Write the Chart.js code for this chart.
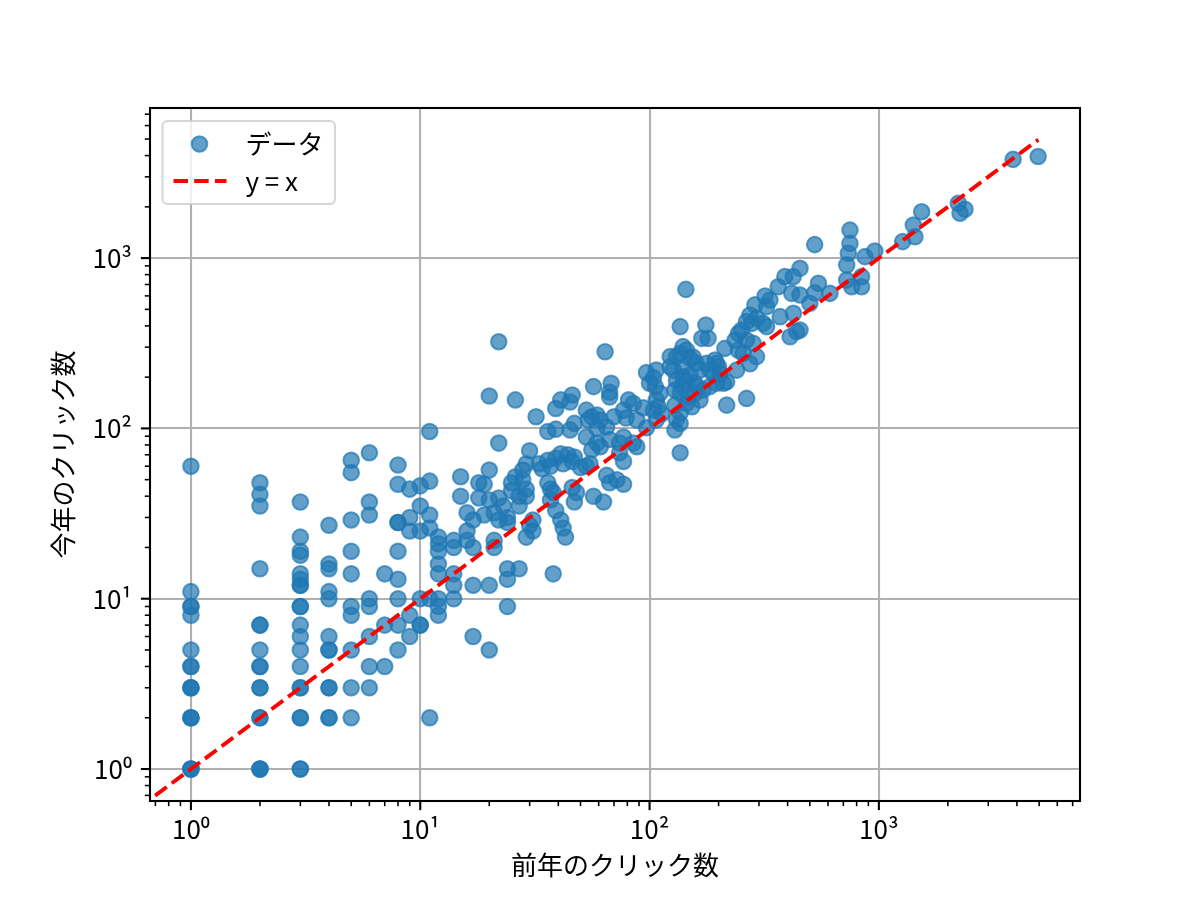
<!DOCTYPE html>
<html>
<head>
<meta charset="utf-8">
<script src="https://cdn.jsdelivr.net/npm/chart.js@4.4.1/dist/chart.umd.min.js"></script>
<style>
  html, body { margin: 0; padding: 0; background: #ffffff; }
  #c { display: block; width: 1200px; height: 900px; }
</style>
</head>
<body>
<canvas id="c" width="1200" height="900"></canvas>
<script>
// ---- data: previous-year clicks (x) vs this-year clicks (y) ----
const lowPrev = [
  1,1,1,1,1,1,1,1,1,1,1,1,1,1,1,1,1,
  2,2,2,2,2,2,2,2,2,2,2,2,2,2,2,2,
  3,3,3,3,3,3,3,3,3,3,3,3,3,3,3,3,3,3,3,3,
  4,4,4,4,4,4,4,4,4,4,4,4,
  5,5,5,5,5,5,5,5,5,5,
  6,6,6,6,6,6,6,6,
  7,7,7,
  8,8,8,8,8,8,8,8,8,
  9,9,9,9,9,
  10,10,10,10,10,10,
  11,11,11,11,11,11,
  12,12,12,12,12,12,12,12
];
const lowCurr = [
  60,11,9,9,8,5,4,4,3,3,3,2,2,2,1,1,1,
  48,41,35,15,7,7,5,4,4,3,3,2,2,1,1,1,
  37,23,19,18,14,13,12,12,9,9,7,6,5,4,3,3,2,2,1,1,
  27,16,15,11,10,6,5,5,3,3,2,2,
  65,55,29,19,14,9,8,5,3,2,
  72,37,31,10,9,6,4,3,
  14,7,4,
  61,47,28,28,19,13,10,7,5,
  44,30,25,8,6,
  46,35,25,10,7,7,
  96,49,31,26,10,2,
  23,21,19,16,14,10,9,8
];
const midPrev = [
  14,14,14,14,15,15,16,16,17,17,
  17,17,18,18,19,20,20,20,20,20,
  21,21,21,22,22,22,22,23,24,24,
  24,24,24,25,26,26,27,27,27,28,
  29,29,30,30,31,31,32,33,34,36,
  36,37,37,38,39,39,39,39,41,41,
  42,43,44,45,46,46,47,47,47,48,
  53,56,56,57,57,61,61,63,64,65,
  65,67,67,67,68,70,74,77,77,79,
  81,85,88,88,94,97
];
const midCurr = [
  20,14,12,10,52,40,22,32,20,12,
  6,29,48,39,47,155,57,38,12,5,
  32,22,20,323,82,39,29,35,9,15,
  13,30,28,48,147,52,15,40,35,57,
  44,23,74,27,29,25,117,62,58,65,
  48,44,38,14,131,99,67,33,147,29,
  26,23,70,143,157,45,107,68,37,42,
  60,117,75,176,40,112,78,37,282,102,
  53,163,86,48,184,117,82,64,47,115,
  147,140,112,78,132,101
];
const densePrev = [
  28,25,29,41,37,42,46,38,19,16,
  14,55,50,72,74,36,45,53,59,29,
  67,77,59,54,100,113,107,145,136,155,
  123,140,131,145,158,177,190,210,196,136,
  145,171,131,293,53,59,77,85
];
const denseCurr = [
  50,43,40,71,60,62,64,42,31,25,
  22,62,59,50,72,96,98,89,82,62,
  153,128,120,112,184,122,112,288,276,262,
  230,230,192,192,184,241,210,184,184,161,
  140,168,113,264,128,100,89,82
];
const highPrev = [
  97,104,107,104,106,107,109,111,123,127,
  129,129,129,131,136,136,136,136,138,140,
  140,144,148,150,150,153,158,160,160,166,
  166,169,176,180,183,183,193,196,200,203,
  213,217,217,236,240,244,244,252,256,265,
  265,265,274,274,279,283,288,293,313,319,
  324,324,335,364,371,389,410,417,423,424,
  438,453,453,453,500,525,525,545,612,724,
  724,736,748,748,761,841,841,870,960,1270,
  1413,1437,1537,2220,2260,2375,3850,4950
];
const highCurr = [
  213,198,220,128,176,147,134,161,264,220,
  168,137,98,264,396,123,107,72,176,302,
  201,655,153,258,206,134,161,241,176,220,
  147,338,405,338,220,176,252,241,230,210,
  295,188,137,330,220,361,288,378,275,424,
  330,150,463,240,414,316,531,443,414,599,
  519,396,567,679,453,778,345,621,778,474,
  370,871,607,378,543,625,1200,711,621,912,
  743,1067,1460,1220,679,778,679,1020,1100,1250,
  1565,1335,1870,2100,1835,1935,3800,3950
];
// reference line y = x
const refLineX = [0.5, 4960];
const refLineY = [0.5, 4960];
// axis ranges and decade tick labels
const xRange = [0.663, 7536];
const yRange = [0.649, 7610];
const majorTickValues = [1, 10, 100, 1000];
const majorTickLabels = ['10⁰', '10¹', '10²', '10³'];
const seriesLabels = ['データ', 'y = x'];
const axisTitles = ['前年のクリック数', '今年のクリック数'];

// ---- build ----
const prevClicks = lowPrev.concat(midPrev, densePrev, highPrev);
const currClicks = lowCurr.concat(midCurr, denseCurr, highCurr);

const FONT = "'Noto Sans CJK JP', 'Noto Sans', 'DejaVu Sans', sans-serif";
const DPI = 187.5 / 72;           // points -> pixels
const BLUE = 'rgba(31,119,180,0.7)';

function decadeInfo(v) {
  if (!(v > 0)) return null;
  const e = Math.floor(Math.log10(v) + 1e-9);
  const m = v / Math.pow(10, e);
  const r = Math.round(m);
  if (Math.abs(m - r) > 1e-6 || r < 1 || r > 9) return null;
  return { major: r === 1 };
}
function labelFor(v) {
  for (let i = 0; i < majorTickValues.length; i++) {
    if (Math.abs(Math.log10(v) - Math.log10(majorTickValues[i])) < 1e-6) return majorTickLabels[i];
  }
  return '';
}
function gridColor(ctx) {
  const v = ctx.tick ? ctx.tick.value : null;
  const d = decadeInfo(v);
  return d && d.major ? '#b0b0b0' : 'rgba(0,0,0,0)';
}

const axesDecor = {
  id: 'axesDecor',
  afterDraw(chart) {
    const ctx = chart.ctx;
    const a = chart.chartArea;
    ctx.save();
    // tick marks (outward)
    ctx.strokeStyle = '#000';
    const xs = chart.scales.x, ys = chart.scales.y;
    xs.ticks.forEach(t => {
      const d = decadeInfo(t.value); if (!d) return;
      const px = xs.getPixelForValue(t.value);
      if (px < a.left - 0.5 || px > a.right + 0.5) return;
      ctx.lineWidth = d.major ? 0.8 * DPI : 0.6 * DPI;
      const len = d.major ? 3.5 * DPI : 2 * DPI;
      ctx.beginPath(); ctx.moveTo(px, a.bottom); ctx.lineTo(px, a.bottom + len); ctx.stroke();
    });
    ys.ticks.forEach(t => {
      const d = decadeInfo(t.value); if (!d) return;
      const py = ys.getPixelForValue(t.value);
      if (py < a.top - 0.5 || py > a.bottom + 0.5) return;
      ctx.lineWidth = d.major ? 0.8 * DPI : 0.6 * DPI;
      const len = d.major ? 3.5 * DPI : 2 * DPI;
      ctx.beginPath(); ctx.moveTo(a.left, py); ctx.lineTo(a.left - len, py); ctx.stroke();
    });
    // spines
    ctx.lineWidth = 0.8 * DPI;
    ctx.strokeRect(a.left, a.top, a.right - a.left, a.bottom - a.top);

    // legend (upper left)
    const ds = chart.data.datasets;
    const bx = a.left + 12.5, by = a.top + 13, bw = 172.5, bh = 83;
    ctx.beginPath();
    if (ctx.roundRect) ctx.roundRect(bx, by, bw, bh, 5); else ctx.rect(bx, by, bw, bh);
    ctx.fillStyle = 'rgba(255,255,255,0.8)';
    ctx.fill();
    ctx.lineWidth = 1 * DPI * 0.8;
    ctx.strokeStyle = 'rgba(204,204,204,0.8)';
    ctx.stroke();

    // entry 1: marker
    const my = by + 23;
    ctx.beginPath();
    ctx.arc(bx + 37, my, ds[0].pointRadius, 0, Math.PI * 2);
    ctx.fillStyle = ds[0].backgroundColor; ctx.fill();
    ctx.lineWidth = ds[0].borderWidth; ctx.strokeStyle = ds[0].borderColor; ctx.stroke();
    // entry 2: dashed line
    const ly = by + 60;
    ctx.beginPath();
    ctx.setLineDash(ds[1].borderDash);
    ctx.lineWidth = ds[1].borderWidth; ctx.strokeStyle = ds[1].borderColor;
    ctx.moveTo(bx + 11, ly); ctx.lineTo(bx + 64, ly); ctx.stroke();
    ctx.setLineDash([]);
    // texts
    ctx.fillStyle = '#000';
    ctx.font = '26px ' + FONT;
    ctx.textBaseline = 'middle';
    ctx.textAlign = 'left';
    ctx.fillText(ds[0].label, bx + 83, my);
    ctx.fillText(ds[1].label, bx + 83, ly);
    ctx.restore();
  }
};

const scatterPoints = prevClicks.map((x, i) => ({ x: x, y: currClicks[i] }));
const linePoints = refLineX.map((x, i) => ({ x: x, y: refLineY[i] }));

new Chart(document.getElementById('c'), {
  type: 'scatter',
  data: {
    datasets: [
      {
        label: seriesLabels[0],
        data: scatterPoints,
        backgroundColor: BLUE,
        borderColor: BLUE,
        borderWidth: 2,
        pointRadius: 7.8,
        pointHoverRadius: 7.8,
        order: 2
      },
      {
        label: seriesLabels[1],
        data: linePoints,
        showLine: true,
        borderColor: '#ff0000',
        backgroundColor: '#ff0000',
        borderWidth: 1.5 * DPI,
        borderDash: [3.7 * 1.5 * DPI, 1.6 * 1.5 * DPI],
        pointRadius: 0,
        pointHoverRadius: 0,
        fill: false,
        clip: 0,
        order: 1
      }
    ]
  },
  options: {
    responsive: false,
    animation: false,
    devicePixelRatio: 1,
    events: [],
    layout: { padding: { top: 108, right: 120, left: 0, bottom: 0 } },
    plugins: { legend: { display: false }, tooltip: { enabled: false } },
    scales: {
      x: {
        type: 'logarithmic',
        position: 'bottom',
        bounds: 'data',
        min: xRange[0],
        max: xRange[1],
        afterFit: s => { s.height = 99; },
        border: { display: false },
        grid: { color: gridColor, lineWidth: 0.8 * DPI, drawTicks: false },
        ticks: {
          autoSkip: false, maxRotation: 0, minRotation: 0,
          padding: 13, color: '#000',
          font: { family: FONT, size: 26 },
          callback: v => labelFor(v)
        },
        title: {
          display: true, text: axisTitles[0], color: '#000',
          font: { family: FONT, size: 26 },
          padding: { top: 0, bottom: 19 }
        }
      },
      y: {
        type: 'logarithmic',
        position: 'left',
        bounds: 'data',
        min: yRange[0],
        max: yRange[1],
        afterFit: s => { s.width = 150; },
        border: { display: false },
        grid: { color: gridColor, lineWidth: 0.8 * DPI, drawTicks: false },
        ticks: {
          autoSkip: false, padding: 18, color: '#000',
          font: { family: FONT, size: 26 },
          callback: v => labelFor(v)
        },
        title: {
          display: true, text: axisTitles[1], color: '#000',
          font: { family: FONT, size: 26 },
          padding: { top: 48, bottom: 0 }
        }
      }
    }
  },
  plugins: [axesDecor]
});
</script>
</body>
</html>
